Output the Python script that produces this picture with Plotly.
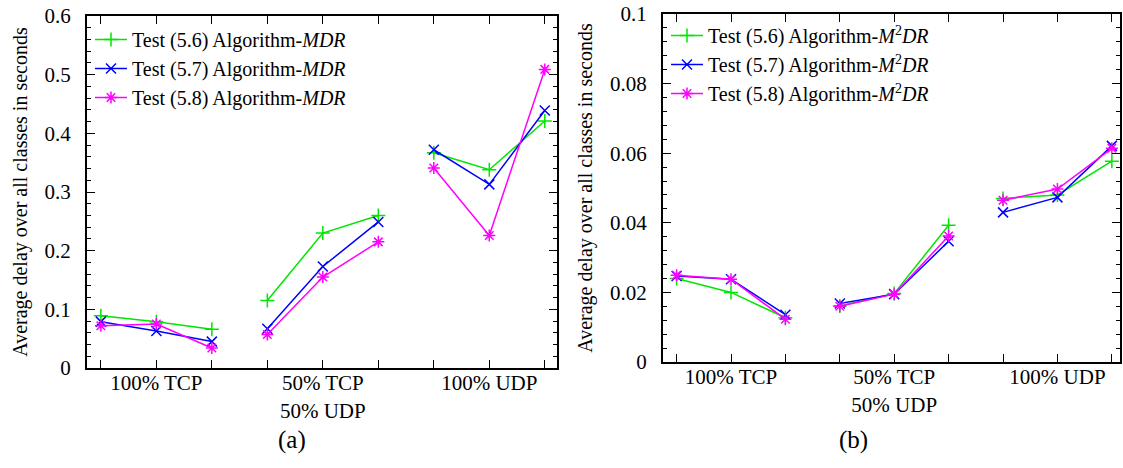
import plotly.graph_objects as go
from plotly.subplots import make_subplots

positions = [1, 2, 3, 4, 5, 6, 7, 8, 9]
category_positions = [2, 5, 8]
category_labels = ["100% TCP", "50% TCP<br>50% UDP", "100% UDP"]
group_size = 3

# Panel (a): Algorithm-MDR
mdr_56 = [0.089, 0.079, 0.066, 0.115, 0.230, 0.260, 0.367, 0.338, 0.421]
mdr_57 = [0.079, 0.063, 0.045, 0.067, 0.173, 0.249, 0.372, 0.313, 0.439]
mdr_58 = [0.072, 0.075, 0.034, 0.057, 0.155, 0.215, 0.341, 0.226, 0.509]

# Panel (b): Algorithm-M2DR
m2dr_56 = [0.0240, 0.0200, 0.0127, 0.0161, 0.0197, 0.0393, 0.0470, 0.0480, 0.0577]
m2dr_57 = [0.0247, 0.0238, 0.0136, 0.0168, 0.0195, 0.0347, 0.0430, 0.0473, 0.0621]
m2dr_58 = [0.0249, 0.0238, 0.0123, 0.0160, 0.0195, 0.0362, 0.0465, 0.0497, 0.0614]

tests = ["5.6", "5.7", "5.8"]
colors = ["#00e600", "#0000ff", "#ff00ff"]
symbols = ["cross-thin-open", "x-thin-open", "asterisk-open"]

FONT = "Liberation Serif, Times New Roman, serif"

W, H = 1123, 468


def px_x(x):
    return x / W


def px_y(y):
    return (H - y) / H


def with_gaps(seq):
    """Break the line between traffic-mix groups."""
    out = []
    for g in range(0, len(seq), group_size):
        out += list(seq[g:g + group_size]) + [None]
    return out[:-1]


fig = make_subplots(rows=1, cols=2)

x_gapped = with_gaps(positions)

for i, (vals, t) in enumerate(zip([mdr_56, mdr_57, mdr_58], tests)):
    fig.add_trace(go.Scatter(
        x=x_gapped, y=with_gaps(vals), mode="lines+markers", connectgaps=False,
        name=f"Test ({t}) Algorithm-<i>MDR</i>",
        line=dict(color=colors[i], width=1.5),
        marker=dict(symbol=symbols[i], size=10, color=colors[i],
                    line=dict(color=colors[i], width=1.5)),
        legend="legend",
    ), row=1, col=1)

for i, (vals, t) in enumerate(zip([m2dr_56, m2dr_57, m2dr_58], tests)):
    fig.add_trace(go.Scatter(
        x=x_gapped, y=with_gaps(vals), mode="lines+markers", connectgaps=False,
        name=f"Test ({t}) Algorithm-<i>M</i><sup>2</sup><i>DR</i>",
        line=dict(color=colors[i], width=1.5),
        marker=dict(symbol=symbols[i], size=10, color=colors[i],
                    line=dict(color=colors[i], width=1.5)),
        legend="legend2",
    ), row=1, col=2)

xcommon = dict(
    tickmode="array", tickvals=category_positions, ticktext=category_labels,
    ticks="", showline=True, linecolor="black", linewidth=2, mirror="ticks",
    minor=dict(tickmode="array", tickvals=positions, ticks="inside",
               ticklen=8, tickwidth=1.2, tickcolor="black"),
    showgrid=False, zeroline=False, automargin=False, ticklabelstandoff=-5,
    ticklabeloverflow="allow",
    tickfont=dict(family=FONT, size=21, color="black"),
)
fig.update_xaxes(**xcommon)
fig.update_xaxes(range=[0.75, 9.22], domain=[px_x(87), px_x(557)], row=1, col=1)
fig.update_xaxes(range=[0.75, 9.15], domain=[px_x(663), px_x(1120)], row=1, col=2)

ycommon = dict(
    ticks="inside", ticklen=8, tickwidth=1.2, tickcolor="black",
    showline=True, linecolor="black", linewidth=2, mirror="ticks",
    showgrid=False, zeroline=False, ticklabelstandoff=10, automargin=False,
    ticklabeloverflow="allow",
    tickfont=dict(family=FONT, size=21, color="black"),
    title=dict(text="Average delay over all classes in seconds",
               font=dict(family=FONT, size=20, color="black"), standoff=12),
)
fig.update_yaxes(**ycommon)
fig.update_yaxes(range=[0, 0.6], dtick=0.1, tick0=0,
                 minor=dict(dtick=0.02, ticklen=4, ticks="inside", tickcolor="black"),
                 domain=[px_y(368), px_y(16)], row=1, col=1)
fig.update_yaxes(range=[0, 0.1], dtick=0.02, tick0=0,
                 minor=dict(dtick=0.004, ticklen=4, ticks="inside", tickcolor="black"),
                 domain=[px_y(362), px_y(14)], row=1, col=2)

legend_style = dict(
    font=dict(family=FONT, size=20, color="black"),
    bgcolor="rgba(0,0,0,0)", borderwidth=0,
    xanchor="left", yanchor="top", tracegroupgap=0,
    itemwidth=32,
)
fig.update_layout(
    legend=dict(x=px_x(90), y=px_y(20), **legend_style),
    legend2=dict(x=px_x(666), y=px_y(16), **legend_style),
)

fig.add_annotation(text="(a)", x=px_x(292), y=px_y(440), xref="paper", yref="paper",
                   xanchor="center", yanchor="middle",
                   showarrow=False, font=dict(family=FONT, size=25, color="black"))
fig.add_annotation(text="(b)", x=px_x(853), y=px_y(440), xref="paper", yref="paper",
                   xanchor="center", yanchor="middle",
                   showarrow=False, font=dict(family=FONT, size=25, color="black"))

fig.update_layout(
    width=W, height=H,
    margin=dict(l=0, r=0, t=0, b=0),
    paper_bgcolor="white", plot_bgcolor="white",
    font=dict(family=FONT, color="black"),
)

# Remove the browser's default 8px body margin so the figure fills the window.
fig.write_html("out.html", config={"displayModeBar": False},
               post_script="document.body.style.margin='0px';document.body.style.overflow='hidden';")
